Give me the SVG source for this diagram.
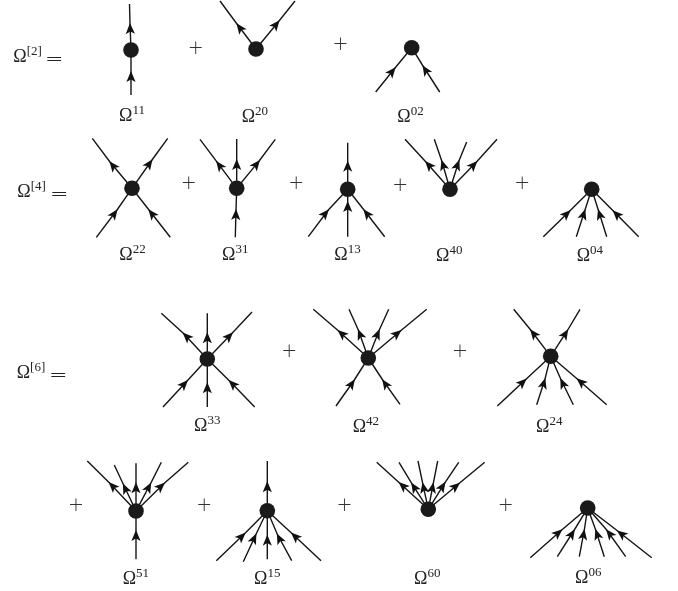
<svg xmlns="http://www.w3.org/2000/svg" width="678" height="591" viewBox="0 0 678 591">
<style>
text{font-family:"Liberation Serif","Times New Roman",serif;fill:#222}
#equations,#plus-signs,.n{filter:grayscale(1)}
.l{font-size:18px}
.s{font-size:13px}
.e{font-size:22px;font-family:"DejaVu Sans",sans-serif;font-weight:200}
.p{font-size:19px;text-anchor:middle;fill:#333;font-family:"DejaVu Sans",sans-serif;font-weight:200}
polyline{fill:none;stroke:#151515;stroke-width:1.4;marker-mid:url(#a)}
circle{fill:#1a1a1a}
</style>
<defs>
<marker id="a" markerUnits="userSpaceOnUse" markerWidth="13" markerHeight="11" refX="10" refY="5" orient="auto" overflow="visible">
<path d="M11,5 L0,0.4 L2.6,5 L0,9.6 Z" fill="#111"/>
</marker>
</defs>
<rect width="678" height="591" fill="#fff"/>
<g id="connectors">
<polyline points="131,50 130,24 129.5,4"/><polyline points="131,95 131,72 131,50"/>
<polyline points="256,49 237,24 220,1"/><polyline points="256,49 279,21 295,1"/>
<polyline points="375.7,92 395,68 411.7,47.7"/><polyline points="439.7,92 423,66 411.7,47.7"/>

<polyline points="132,188.3 110,162 92.3,138.3"/><polyline points="132,188.3 152,160 167.7,138.3"/><polyline points="96.3,237.3 117,210 132,188.3"/><polyline points="170.3,237.3 149,210 132,188.3"/>
<polyline points="236.7,188.3 216.7,161.7 200,139.3"/><polyline points="236.7,188.3 236.7,160 236.7,139"/><polyline points="236.7,188.3 259.3,160.7 275.3,139.3"/><polyline points="235.3,237.3 236,210 236.7,188.3"/>
<polyline points="347.7,189.3 347.7,161.7 347.7,142.7"/><polyline points="347.7,236.7 347.7,202 347.7,189.3"/><polyline points="308.3,236.7 328.3,210 347.7,189.3"/><polyline points="384.7,236.7 364,210 347.7,189.3"/>
<polyline points="450,189.3 425.7,161.7 405,139.3"/><polyline points="450,189.3 441.7,160.7 434.3,139.3"/><polyline points="450,189.3 459,160.7 466.7,142"/><polyline points="450,189.3 476.7,161.7 497,139.3"/>
<polyline points="543.3,236.7 570,210.7 591.7,189.3"/><polyline points="576.3,236.7 585,210 591.7,189.3"/><polyline points="606.7,236.7 598.3,210 591.7,189.3"/><polyline points="638.7,236.7 613.3,211 591.7,189.3"/>

<polyline points="207.3,359 183.3,333.3 161.3,313.3"/><polyline points="207.3,359 207.3,333.3 207.3,313.3"/><polyline points="207.3,359 232.3,333 252,312"/><polyline points="163,407 187.3,380.7 207.3,359"/><polyline points="207.3,407 207.3,383.3 207.3,359"/><polyline points="254.7,407 229.3,380.7 207.3,359"/>
<polyline points="368.3,358 338.3,330.7 313.3,309.3"/><polyline points="368.3,358 358.3,330 349,309.3"/><polyline points="368.3,358 379.3,330 388.7,309.3"/><polyline points="368.3,358 400.7,330.7 426.7,309.3"/><polyline points="336,406 354.3,380 368.3,358"/><polyline points="400,404.3 382.7,380 368.3,358"/>
<polyline points="550.7,356.3 530.7,330 513.7,309.3"/><polyline points="550.7,356.3 567.7,330 580,309.3"/><polyline points="497.3,406 526,379.3 550.7,356.3"/><polyline points="536.7,404.7 545,379 550.7,356.3"/><polyline points="573.3,404.7 560.7,379 550.7,356.3"/><polyline points="606.7,404.7 577.3,379 550.7,356.3"/>

<polyline points="136,511 109.3,482.7 87.3,461"/><polyline points="136,511 123.3,484.3 114.3,465"/><polyline points="136,511 136,483.3 136,463.3"/><polyline points="136,511 150.7,483.3 161.3,462.3"/><polyline points="136,511 164.3,483.3 188.3,462.3"/><polyline points="136,559.3 136,531 136,511"/>
<polyline points="267.3,510.7 267.3,482.3 267.3,461"/><polyline points="216.3,560.7 245,533.3 267.3,510.7"/><polyline points="243.3,561.7 256,534.3 267.3,510.7"/><polyline points="267.3,559.3 267.3,535.7 267.3,510.7"/><polyline points="291.7,560.7 277.3,534.3 267.3,510.7"/><polyline points="321,560.7 291.7,533.3 267.3,510.7"/>
<polyline points="428.3,509.3 399.3,482.7 376.7,462.3"/><polyline points="428.3,509.3 411.7,483.3 399,462.3"/><polyline points="428.3,509.3 422.7,483.3 418,461"/><polyline points="428.3,509.3 433.3,483.3 437.7,461"/><polyline points="428.3,509.3 445,482.7 458.7,462.3"/><polyline points="428.3,509.3 459.3,483.3 484.7,462.3"/>
<polyline points="530.3,557.7 561.7,530 587.7,508"/><polyline points="557.3,556.7 574.3,530 587.7,508"/><polyline points="579.3,556.7 584.3,530 587.7,508"/><polyline points="604.3,556.7 595.7,530 587.7,508"/><polyline points="625.7,556.7 606.7,530 587.7,508"/><polyline points="651.7,557.7 617.7,531 587.7,508"/>
</g>
<g id="equations">
<text class="l" x="13.3" y="62">Ω<tspan class="s" dy="-7">[2]</tspan></text><text class="e" x="45" y="66">=</text>
<text class="l" x="17.3" y="197">Ω<tspan class="s" dy="-7">[4]</tspan></text><text class="e" x="50" y="201">=</text>
<text class="l" x="16.7" y="378">Ω<tspan class="s" dy="-7">[6]</tspan></text><text class="e" x="49" y="382">=</text>
</g>
<g id="plus-signs">
<text class="p" x="195.7" y="53.5">+</text><text class="p" x="340.5" y="50">+</text>
<text class="p" x="188.7" y="188.5">+</text><text class="p" x="296.3" y="188.5">+</text><text class="p" x="400.3" y="190.5">+</text><text class="p" x="522.3" y="189">+</text>
<text class="p" x="289.3" y="356.5">+</text><text class="p" x="460" y="356.5">+</text>
<text class="p" x="76" y="510.5">+</text><text class="p" x="204.3" y="510.5">+</text><text class="p" x="344.5" y="510.5">+</text><text class="p" x="505.7" y="510.5">+</text>
</g>
<g id="n11" class="n"><circle cx="131" cy="50" r="7.8"/><text class="l" x="119" y="121">Ω<tspan class="s" dy="-7">11</tspan></text></g>
<g id="n20" class="n"><circle cx="256" cy="49" r="7.8"/><text class="l" x="241.7" y="122">Ω<tspan class="s" dy="-7">20</tspan></text></g>
<g id="n02" class="n"><circle cx="411.7" cy="47.7" r="7.8"/><text class="l" x="397.3" y="122">Ω<tspan class="s" dy="-7">02</tspan></text></g>
<g id="n22" class="n"><circle cx="132" cy="188.3" r="7.8"/><text class="l" x="119.3" y="260">Ω<tspan class="s" dy="-7">22</tspan></text></g>
<g id="n31" class="n"><circle cx="236.7" cy="188.3" r="7.8"/><text class="l" x="222" y="260">Ω<tspan class="s" dy="-7">31</tspan></text></g>
<g id="n13" class="n"><circle cx="347.7" cy="189.3" r="7.8"/><text class="l" x="334.3" y="260">Ω<tspan class="s" dy="-7">13</tspan></text></g>
<g id="n40" class="n"><circle cx="450" cy="189.3" r="7.8"/><text class="l" x="436" y="261">Ω<tspan class="s" dy="-7">40</tspan></text></g>
<g id="n04" class="n"><circle cx="591.7" cy="189.3" r="7.8"/><text class="l" x="576.7" y="261">Ω<tspan class="s" dy="-7">04</tspan></text></g>
<g id="n33" class="n"><circle cx="207.3" cy="359" r="7.8"/><text class="l" x="194" y="431">Ω<tspan class="s" dy="-7">33</tspan></text></g>
<g id="n42" class="n"><circle cx="368.3" cy="358" r="7.8"/><text class="l" x="352.7" y="432">Ω<tspan class="s" dy="-7">42</tspan></text></g>
<g id="n24" class="n"><circle cx="550.7" cy="356.3" r="7.8"/><text class="l" x="536" y="432">Ω<tspan class="s" dy="-7">24</tspan></text></g>
<g id="n51" class="n"><circle cx="136" cy="511" r="7.8"/><text class="l" x="122.7" y="584">Ω<tspan class="s" dy="-7">51</tspan></text></g>
<g id="n15" class="n"><circle cx="267.3" cy="510.7" r="7.8"/><text class="l" x="254" y="584">Ω<tspan class="s" dy="-7">15</tspan></text></g>
<g id="n60" class="n"><circle cx="428.3" cy="509.3" r="7.8"/><text class="l" x="414" y="584">Ω<tspan class="s" dy="-7">60</tspan></text></g>
<g id="n06" class="n"><circle cx="587.7" cy="508" r="7.8"/><text class="l" x="575" y="583">Ω<tspan class="s" dy="-7">06</tspan></text></g>
</svg>
